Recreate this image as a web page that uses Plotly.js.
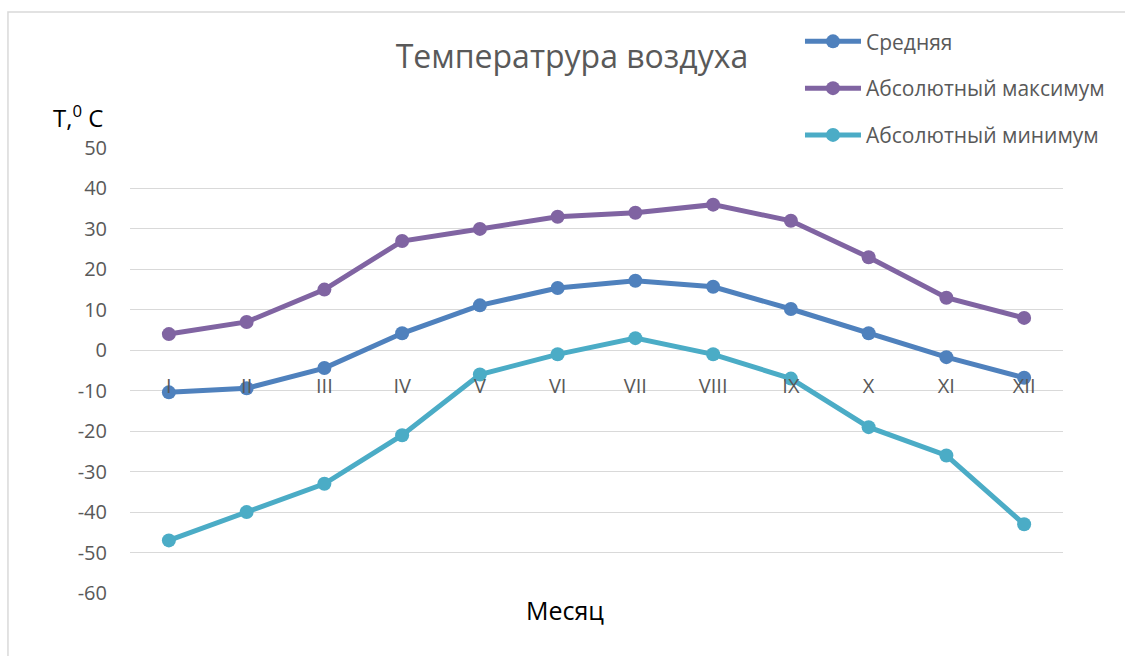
<!DOCTYPE html>
<html>
<head>
<meta charset="utf-8">
<script src="https://cdn.plot.ly/plotly-3.0.1.min.js"></script>
<style>html,body{margin:0;padding:0;background:#fff;}#chart{width:1125px;height:656px;}</style>
</head>
<body>
<div id="chart"></div>
<script>
const months = ["I","II","III","IV","V","VI","VII","VIII","IX","X","XI","XII"];
const avgTemp = [-10.4, -9.4, -4.4, 4.2, 11.1, 15.4, 17.2, 15.7, 10.2, 4.2, -1.7, -6.8];
const absMax = [4, 7, 15, 27, 30, 33, 34, 36, 32, 23, 13, 8];
const absMin = [-47, -40, -33, -21, -6, -1, 3, -1, -7, -19, -26, -43];
const seriesNames = ["Средняя", "Абсолютный максимум", "Абсолютный минимум"];
const yTickValues = [-60, -50, -40, -30, -20, -10, 0, 10, 20, 30, 40, 50];
const yTickLabels = ["-60", "-50", "-40", "-30", "-20", "-10", "0", "10", "20", "30", "40", "50"];
const colors = ["#4F81BD", "#8064A2", "#4BACC6"];

const FONT = "Open Sans, Noto Sans, sans-serif";
const data = [avgTemp, absMax, absMin].map((vals, i) => ({
  type: "scatter", mode: "lines+markers", x: months, y: vals,
  name: seriesNames[i], legendgroup: "g" + i,
  line: {color: colors[i], width: 5},
  marker: {color: colors[i], size: 14}
}));

const yMin = -60, yMax = 50;
const layout = {
  width: 1125, height: 656,
  margin: {l: 130, r: 62, t: 148, b: 63},
  paper_bgcolor: "#fff", plot_bgcolor: "#fff",
  showlegend: true,
  title: {text: "Температрура воздуха", font: {family: FONT, size: 32, color: "#595959"},
          x: 0.4737, xanchor: "center", xref: "paper", y: 0.913, yanchor: "middle"},
  legend: {x: 0.7181, y: 1.285, xanchor: "left", yanchor: "top", traceorder: "grouped",
           tracegroupgap: 16.5, itemwidth: 56, font: {family: FONT, size: 21, color: "#595959"},
           bgcolor: "rgba(0,0,0,0)"},
  xaxis: {type: "category", range: [-0.5, 11.5], anchor: "free",
          position: (0 - yMin) / (yMax - yMin),
          showgrid: false, showline: false, zeroline: false,
          ticks: "outside", ticklen: 18, tickcolor: "rgba(0,0,0,0)",
          tickfont: {family: FONT, size: 20, color: "#595959"}},
  yaxis: {range: [yMin, yMax], tickmode: "array", tickvals: yTickValues, ticktext: yTickLabels,
          showgrid: true, gridcolor: "#D9D9D9", gridwidth: 1,
          zeroline: false, showline: false, ticks: "outside", ticklen: 18, tickcolor: "rgba(0,0,0,0)",
          tickfont: {family: FONT, size: 20, color: "#595959"}},
  annotations: [
    {text: "T,<sup>0</sup> C", xref: "paper", yref: "paper", x: -0.027, y: 1.07, xanchor: "right", yanchor: "middle",
     showarrow: false, font: {family: FONT, size: 24, color: "#000"}},
    {text: "Месяц", xref: "paper", yref: "paper", x: 0.466, y: -0.038, xanchor: "center", yanchor: "middle",
     showarrow: false, font: {family: FONT, size: 25, color: "#000"}}
  ],
  shapes: [
    {type: "rect", xref: "paper", yref: "paper", x0: -0.1308, x1: 1.2, y0: -0.3, y1: 1.3056,
     line: {color: "#D9D9D9", width: 1.5}, fillcolor: "rgba(0,0,0,0)", layer: "below"}
  ]
};
Plotly.newPlot("chart", data, layout, {displayModeBar: false, staticPlot: true});
</script>
</body>
</html>
